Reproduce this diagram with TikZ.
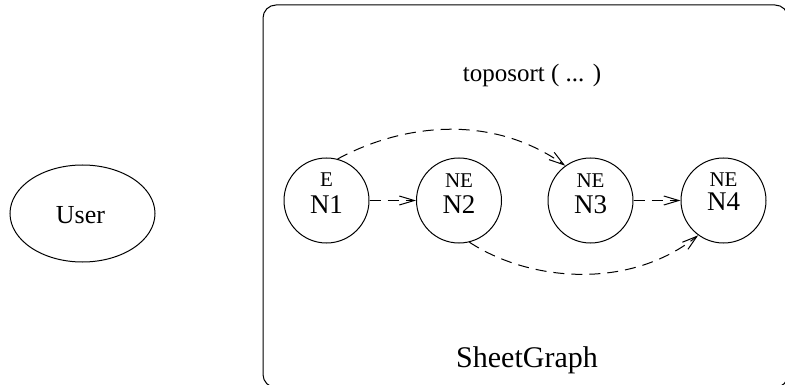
\documentclass[tikz,border=0pt]{standalone}
\usepackage{fontspec}
\setmainfont{Liberation Serif}
\usetikzlibrary{arrows.meta,shapes.geometric}
\begin{document}
\begin{tikzpicture}[x=1pt,y=-1pt,
  line width=1pt,
  vert/.style={draw,circle,minimum size=85pt,inner sep=0pt},
  tag/.style={anchor=base,inner sep=0pt,font=\fontsize{21}{21}\selectfont},
  nm/.style={anchor=base,inner sep=0pt,font=\fontsize{27}{27}\selectfont},
  dep/.style={dash pattern=on 11pt off 7pt,
    -{Straight Barb[length=15pt,width=9pt,line width=1pt]}}
]
\useasboundingbox (0,0) rectangle (785,385);

% outer container, its right and bottom sides run off the page
\draw[rounded corners=13pt] (263,5) rectangle (788,387.5);
\node[inner sep=0pt,anchor=base,font=\fontsize{25}{25}\selectfont] (title) at (532,82) {toposort ( ... )};
\node[inner sep=0pt,anchor=base,font=\fontsize{30}{30}\selectfont] (name) at (527,367) {SheetGraph};

% user
\node[draw,ellipse,minimum width=145pt,minimum height=97pt,inner sep=0pt] (user) at (82.5,213.5) {};
\node[inner sep=0pt,anchor=base,font=\fontsize{26}{26}\selectfont] (usert) at (80.5,223) {User};

% graph vertices
\node[vert] (N1) at (326.5,200.5) {};
\node[vert] (N2) at (459,200.5) {};
\node[vert] (N3) at (590.5,200.5) {};
\node[vert] (N4) at (723.5,200.5) {};

\node[tag] (t1) at (326.5,187) {E};
\node[nm]  (n1) at (326.5,214) {N1};
\node[tag] (t2) at (459,188) {NE};
\node[nm]  (n2) at (459,214) {N2};
\node[tag] (t3) at (590.5,188) {NE};
\node[nm]  (n3) at (590.5,213) {N3};
\node[tag] (t4) at (723.5,186) {NE};
\node[nm]  (n4) at (723.5,210.5) {N4};

% dependencies
\draw[dep] (N1) -- (N2);
\draw[dep] (N3) -- (N4);
\draw[dep] (N1.75) .. controls (400,125) and (490,112) .. (N3.126);
\draw[dep] (N2.-76) .. controls (530,282) and (630,290) .. (N4.-126);
\end{tikzpicture}
\end{document}
